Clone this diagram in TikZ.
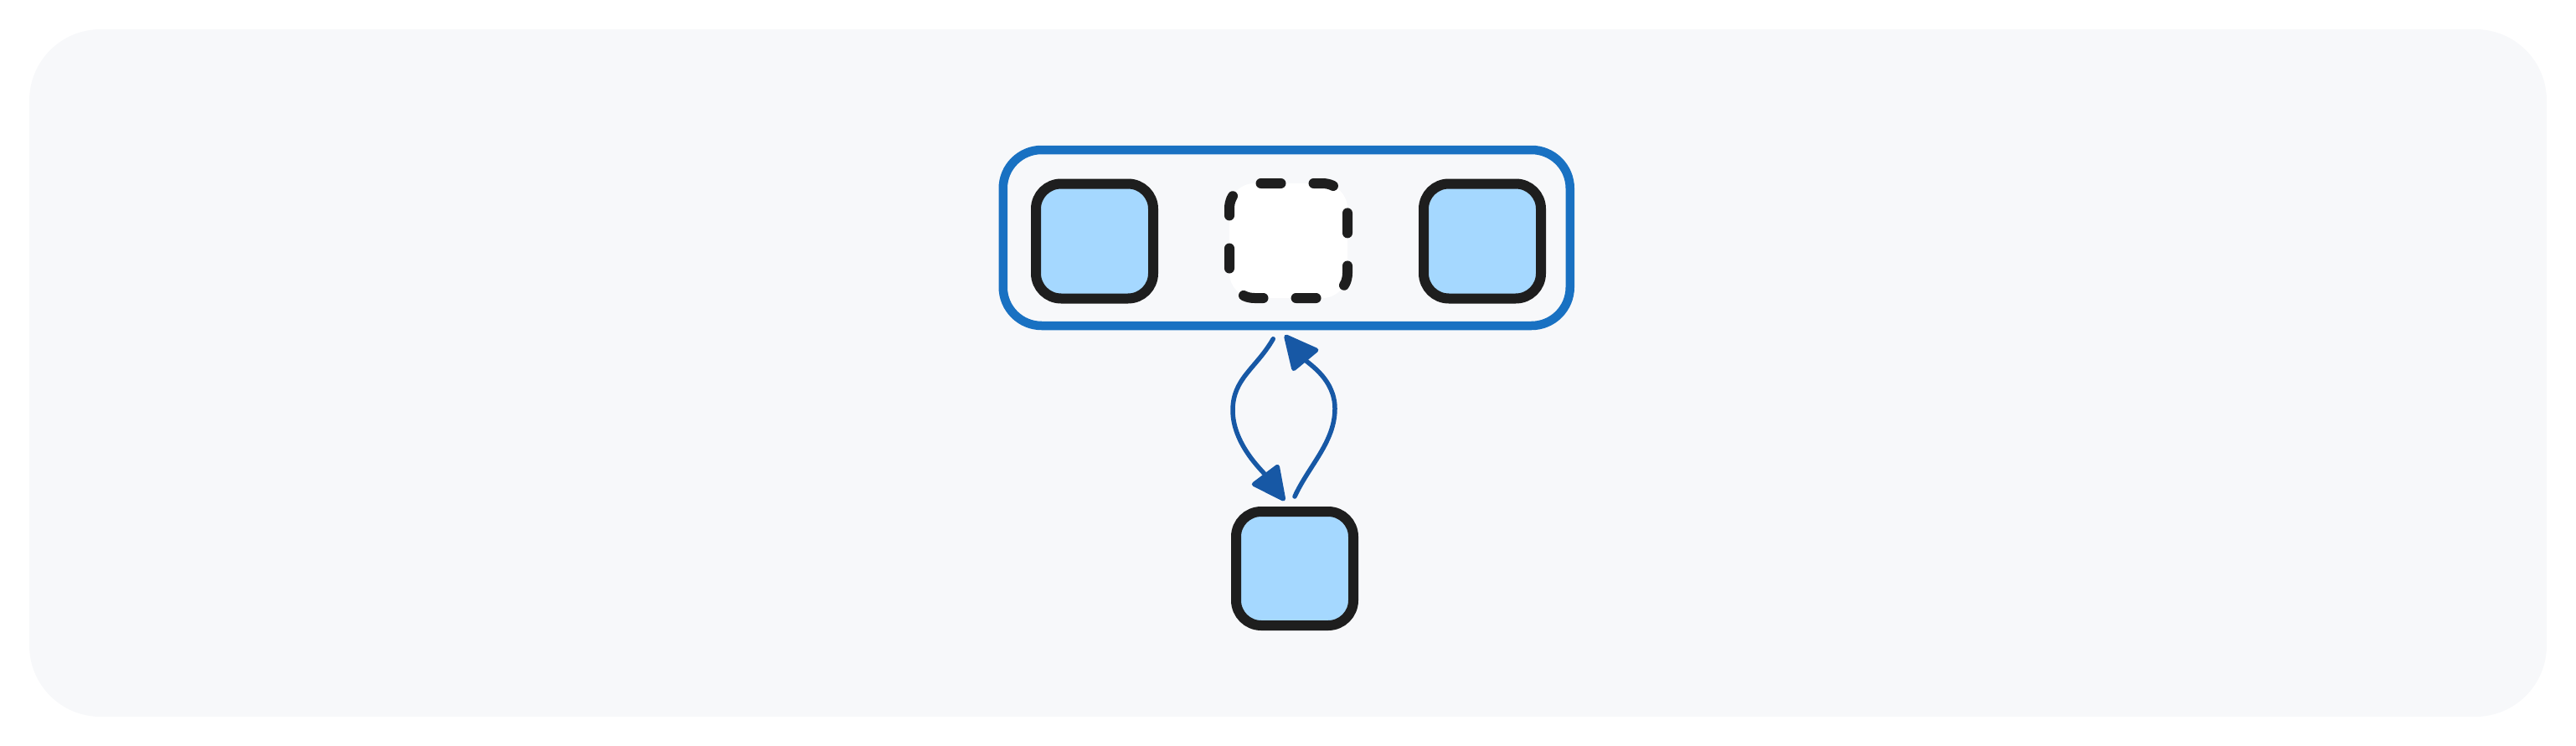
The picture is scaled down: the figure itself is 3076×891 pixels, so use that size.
\documentclass[tikz,border=0pt]{standalone}
\usetikzlibrary{arrows.meta}
\definecolor{bgc}{HTML}{F7F8FA}
\definecolor{ink}{HTML}{1E1E1E}
\definecolor{boxfill}{HTML}{A5D8FF}
\definecolor{frameblue}{HTML}{1971C2}
\definecolor{arrowblue}{HTML}{1758A5}
\tikzset{
  cell/.style={draw=ink, line width=12pt, fill=boxfill, rounded corners=30pt,
    minimum width=140pt, minimum height=137pt, inner sep=0pt},
  ghost/.style={draw=ink, line width=12pt, fill=white, rounded corners=30pt,
    minimum width=141pt, minimum height=137pt, inner sep=0pt,
    line cap=round, dash pattern=on 24pt off 39.06pt, dash phase=13.56pt},
  frame/.style={draw=frameblue, line width=10.5pt, rounded corners=46pt,
    minimum width=677pt, minimum height=210pt, inner sep=0pt},
  link/.style={draw=arrowblue, line width=5.5pt, line cap=round, line join=round,
    -{Triangle[length=44pt,width=42pt,round]}}
}
\begin{document}
\begin{tikzpicture}[x=1pt,y=-1pt]
  \useasboundingbox (0,0) rectangle (3076,891);
  \fill[bgc, rounded corners=85pt] (35,35) rectangle (3041,856);
  \node[frame] (group) at (1536.25,284) {};
  \node[cell] (left) at (1307,288) {};
  \node[ghost] (slot) at (1538.5,287.5) {};
  \node[cell] (right) at (1770,288) {};
  \node[cell, minimum height=136pt] (bottom) at (1546,679) {};
  \draw[link] ([xshift=-16pt,yshift=-10.5pt]group.south)
     .. controls (1500,440) and (1472,452) .. (1472,490)
     .. controls (1472,530) and (1507,562) ..
     ([xshift=-12pt,yshift=7pt]bottom.north);
  \draw[link] ([yshift=12pt]bottom.north)
     .. controls (1563,556) and (1594,528) .. (1594,488)
     .. controls (1594,453) and (1563,435) ..
     ([xshift=-2pt,yshift=-6pt]group.south);
\end{tikzpicture}
\end{document}
